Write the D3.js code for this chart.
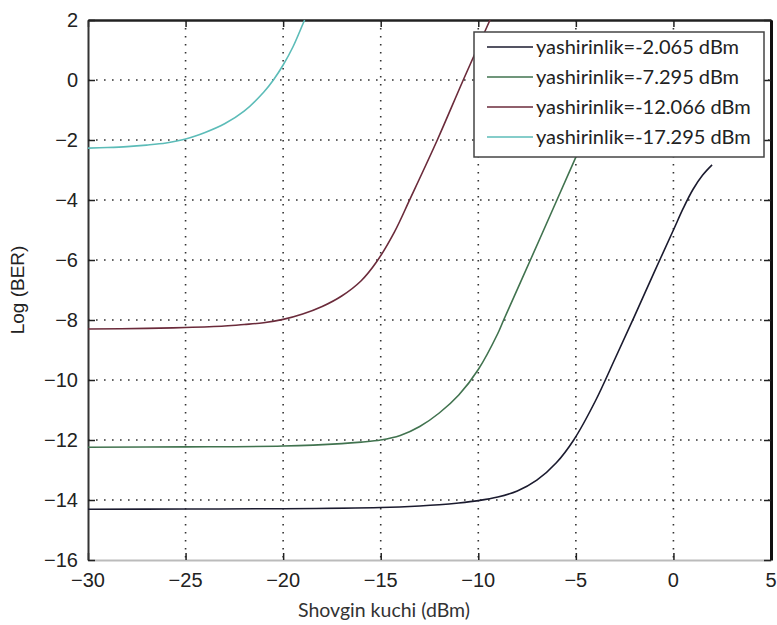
<!DOCTYPE html>
<html>
<head>
<meta charset="utf-8">
<script src="https://cdn.jsdelivr.net/npm/d3@7"></script>
<style>
  html, body { margin: 0; padding: 0; background: #fff; }
  svg { display: block; }
  .tick-label { font-family: "Liberation Sans", Arial, sans-serif; font-size: 20px; fill: #222; }
</style>
</head>
<body>
<div id="chart"></div>
<script>
// BER curves: [power dBm, log(BER)]
const seriesNames = [
  "yashirinlik=-2.065 dBm",
  "yashirinlik=-7.295 dBm",
  "yashirinlik=-12.066 dBm",
  "yashirinlik=-17.295 dBm"
];
const seriesColors = ["#1b1b2f", "#41734f", "#6b2b3b", "#5cbcb8"];

const curveA = [[-30, -14.31], [-25, -14.3], [-20, -14.29], [-15, -14.25], [-13, -14.2], [-12, -14.16],
  [-11, -14.1], [-10, -14.02], [-9, -13.9], [-8, -13.7], [-7, -13.34], [-6, -12.76], [-5.11, -12.0],
  [-4, -10.7], [-3, -9.3], [-2, -7.88], [-1, -6.43], [0, -5.0], [0.5, -4.28], [1, -3.65],
  [1.5, -3.17], [1.98, -2.83]];
const curveB = [[-30, -12.24], [-25, -12.23], [-20, -12.2], [-17, -12.12], [-16, -12.07], [-15, -12.0],
  [-14, -11.85], [-13, -11.55], [-12, -11.1], [-11, -10.5], [-10, -9.65], [-9, -8.45], [-8.7, -8.0],
  [-7.33, -6.0], [-5.97, -4.0], [-5.0, -2.57], [-4.5, -1.85]];
const curveC = [[-30, -8.3], [-27, -8.28], [-25, -8.25], [-23, -8.2], [-22, -8.15], [-21, -8.09],
  [-20, -7.98], [-19, -7.8], [-18, -7.55], [-17, -7.2], [-16, -6.69], [-15.2, -6.05], [-14.3, -5.07],
  [-13.5, -3.97], [-12.1, -2.0], [-10.77, 0], [-9.4, 2.0]];
const curveD = [[-30, -2.27], [-29, -2.25], [-28, -2.22], [-27, -2.17], [-26, -2.1], [-25, -1.97],
  [-24, -1.75], [-23, -1.46], [-22, -1.04], [-21, -0.41], [-20.5, 0.0], [-20, 0.5], [-19.5, 1.1],
  [-19, 1.85], [-18.9, 2.0]];
const allCurves = [curveA, curveB, curveC, curveD];

const xTicks = [-30, -25, -20, -15, -10, -5, 0, 5];
const yTicks = [2, 0, -2, -4, -6, -8, -10, -12, -14, -16];
const xTitle = "Shovgin kuchi (dBm)";
const yTitle = "Log (BER)";

const W = 777, H = 625;
const margin = { top: 20, right: 6, bottom: 65, left: 88 };
const iw = W - margin.left - margin.right;
const ih = H - margin.top - margin.bottom;

const svg = d3.select("#chart").append("svg")
  .attr("width", W).attr("height", H);

const x = d3.scaleLinear().domain([-30, 5]).range([margin.left, margin.left + iw]);
const y = d3.scaleLinear().domain([-16, 2]).range([margin.top + ih, margin.top]);

const minus = v => String(v).replace("-", "\u2212");

// dotted grid
const grid = svg.append("g").attr("stroke", "#333").attr("stroke-width", 1.6)
  .attr("stroke-dasharray", "1.6,6.4").attr("fill", "none");
grid.selectAll("line.gx").data(xTicks.slice(1, -1)).join("line")
  .attr("x1", d => x(d)).attr("x2", d => x(d))
  .attr("y1", margin.top).attr("y2", margin.top + ih);
grid.selectAll("line.gy").data(yTicks.slice(1, -1)).join("line")
  .attr("y1", d => y(d)).attr("y2", d => y(d))
  .attr("x1", margin.left).attr("x2", margin.left + iw);

// axes with inward ticks
const tickLen = 7;
svg.append("g").attr("transform", `translate(0,${margin.top + ih})`)
  .call(d3.axisBottom(x).tickValues(xTicks).tickSizeInner(-tickLen).tickSizeOuter(0).tickFormat(""))
  .call(g => g.select(".domain").attr("stroke", "#bbb").attr("stroke-width", 2))
  .call(g => g.selectAll(".tick line").attr("stroke", "#222").attr("stroke-width", 1.5));
svg.append("g").attr("transform", `translate(0,${margin.top})`)
  .call(d3.axisTop(x).tickValues(xTicks).tickSizeInner(-tickLen).tickSizeOuter(0).tickFormat(""))
  .call(g => g.select(".domain").attr("stroke", "#222").attr("stroke-width", 2.5))
  .call(g => g.selectAll(".tick line").attr("stroke", "#222").attr("stroke-width", 1.5));
svg.append("g").attr("transform", `translate(${margin.left},0)`)
  .call(d3.axisLeft(y).tickValues(yTicks).tickSizeInner(-tickLen).tickSizeOuter(0).tickFormat(""))
  .call(g => g.select(".domain").attr("stroke", "#333").attr("stroke-width", 2))
  .call(g => g.selectAll(".tick line").attr("stroke", "#222").attr("stroke-width", 1.5));
svg.append("g").attr("transform", `translate(${margin.left + iw},0)`)
  .call(d3.axisRight(y).tickValues(yTicks).tickSizeInner(-tickLen).tickSizeOuter(0).tickFormat(""))
  .call(g => g.select(".domain").attr("stroke", "#111").attr("stroke-width", 3))
  .call(g => g.selectAll(".tick line").attr("stroke", "#222").attr("stroke-width", 1.5));

// tick labels
svg.append("g").selectAll("text").data(xTicks).join("text")
  .attr("class", "tick-label")
  .attr("x", d => x(d)).attr("y", margin.top + ih + 27)
  .attr("text-anchor", "middle").text(d => minus(d));
svg.append("g").selectAll("text").data(yTicks).join("text")
  .attr("class", "tick-label")
  .attr("x", margin.left - 10).attr("y", d => y(d)).attr("dy", "0.36em")
  .attr("text-anchor", "end").text(d => minus(d));

// axis titles
svg.append("text")
  .attr("transform", `translate(24,${margin.top + ih / 2}) rotate(-90)`)
  .attr("text-anchor", "middle")
  .style("font-family", "'Liberation Sans', Arial, sans-serif").style("font-size", "19px").style("fill", "#222")
  .text(yTitle);
svg.append("text")
  .attr("x", 384).attr("y", 617)
  .attr("text-anchor", "middle")
  .style("font-family", "Lato, 'Open Sans', sans-serif").style("font-size", "19.5px").style("fill", "#333")
  .text(xTitle);

// curves
const line = d3.line().x(d => x(d[0])).y(d => y(d[1])).curve(d3.curveCatmullRom.alpha(0.5));
svg.append("g").attr("fill", "none").attr("stroke-width", 1.6)
  .selectAll("path").data(allCurves).join("path")
  .attr("stroke", (d, i) => seriesColors[i])
  .attr("d", line);

// legend
const lg = svg.append("g").attr("transform", "translate(474,32)");
lg.append("rect").attr("width", 290).attr("height", 125)
  .attr("fill", "#fff").attr("stroke", "#444").attr("stroke-width", 1.5);
const rows = lg.selectAll("g.row").data(seriesNames).join("g")
  .attr("transform", (d, i) => `translate(0,${15 + i * 30})`);
rows.append("line").attr("x1", 13).attr("x2", 59)
  .attr("stroke", (d, i) => seriesColors[i]).attr("stroke-width", 1.6);
rows.append("text").attr("x", 62).attr("dy", "0.33em")
  .style("font-family", "Lato, 'Open Sans', sans-serif").style("font-size", "20px").style("fill", "#222")
  .text(d => d);
</script>
</body>
</html>
